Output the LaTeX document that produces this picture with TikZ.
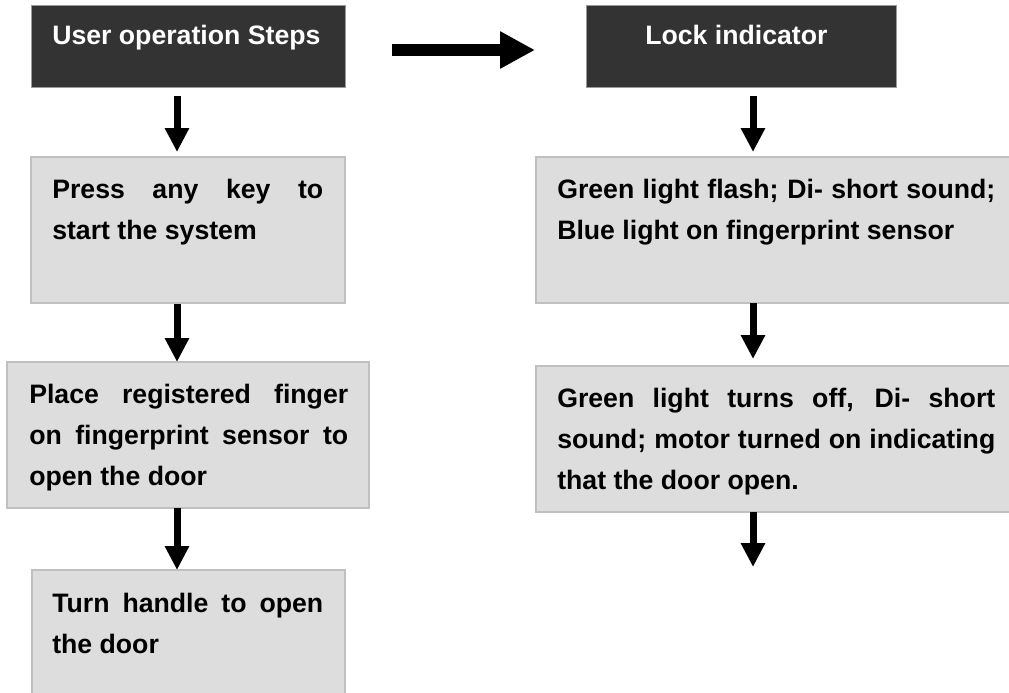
\documentclass[tikz,border=0pt]{standalone}
\usepackage{fontspec}
\setmainfont{Liberation Sans}
\usetikzlibrary{arrows.meta,calc}
\definecolor{dark}{HTML}{333333}
\definecolor{light}{HTML}{DDDDDD}
\definecolor{lborder}{HTML}{C0C0C0}
\definecolor{dborder}{HTML}{9A9A9A}
\newcommand\mystrut{\rule{0pt}{21pt}}
\tolerance=10000
\hyphenpenalty=10000
\exhyphenpenalty=10000
\begin{document}
\begin{tikzpicture}[x=0.75pt,y=-0.75pt,
  font=\fontsize{20pt}{30.75pt}\selectfont\bfseries,
  darkbox/.style={draw=dborder, line width=0.75pt, fill=dark, inner sep=0pt, outer sep=0pt},
  lightbox/.style={draw=lborder, line width=1.1pt, fill=light, inner sep=0pt, outer sep=0pt},
  headtext/.style={text=white, inner sep=0pt, anchor=base west},
  bodytext/.style={inner sep=0pt, anchor=north west, align=justify},
  downarr/.style={line width=5.25pt, -{Triangle[width=17.25pt,length=18pt]}},
  bigarr/.style={line width=9pt, -{Triangle[width=26.25pt,length=26.25pt]}}]
\useasboundingbox (0,0) rectangle (1009,692);
\clip (0,0) rectangle (1009,692);
% boxes
\node[darkbox, minimum width=235.5pt, minimum height=60.75pt] (D1) at (188,46.5) {};
\node[darkbox, minimum width=232.5pt, minimum height=60.75pt] (D2) at (741,46.5) {};
\node[lightbox, minimum width=235.5pt, minimum height=109.5pt] (B2L) at (188,230) {};
\node[lightbox, minimum width=271.5pt, minimum height=109.5pt] (B3L) at (188,435) {};
\node[lightbox, minimum width=234.75pt, minimum height=97.5pt] (B4L) at (188.5,635) {};
\node[lightbox, minimum width=359.25pt, minimum height=109.5pt] (B2R) at (775.5,230) {};
\node[lightbox, minimum width=359.25pt, minimum height=109.5pt] (B3R) at (775.5,439) {};
% texts
\node[headtext] (H1) at (52,45) {User operation Steps};
\node[headtext] (H2) at (645,45) {Lock indicator};
\node[bodytext, text width=203.25pt] (T2L) at (52,170) {\mystrut Press any key to\linebreak start the system};
\node[bodytext, text width=239.25pt] (T3L) at (29,375) {\mystrut Place registered finger\linebreak on fingerprint sensor to\linebreak open the door};
\node[bodytext, text width=203.25pt] (T4L) at (52,584) {\mystrut Turn handle to open\linebreak the door};
\node[bodytext, text width=328.5pt] (T2R) at (557,170) {\mystrut Green light flash; Di- short sound;\linebreak Blue light on fingerprint sensor};
\node[bodytext, text width=328.5pt] (T3R) at (557,379) {\mystrut Green light turns off, Di- short\linebreak sound; motor turned on indicating\linebreak that the door open.};
% connectors
\coordinate (yA) at (0,50);
\coordinate (xL) at (177,0);
\coordinate (xR) at (753,0);
\coordinate (endR) at (753,567);
\draw[bigarr, shorten <=35.25pt, shorten >=38.25pt] (D1.east |- yA) -- (D2.west |- yA);
\draw[downarr, shorten <=6.75pt, shorten >=3.75pt] (D1.south -| xL) -- (B2L.north -| xL);
\draw[downarr, shorten <=0.75pt] (B2L.south -| xL) -- (B3L.north -| xL);
\draw[downarr] (B3L.south -| xL) -- (B4L.north -| xL);
\draw[downarr, shorten <=6.75pt, shorten >=3.75pt] (D2.south -| xR) -- (B2R.north -| xR);
\draw[downarr, shorten >=5.25pt] (B2R.south -| xR) -- (B3R.north -| xR);
\draw[downarr] (B3R.south -| xR) -- (endR);
\end{tikzpicture}
\end{document}
